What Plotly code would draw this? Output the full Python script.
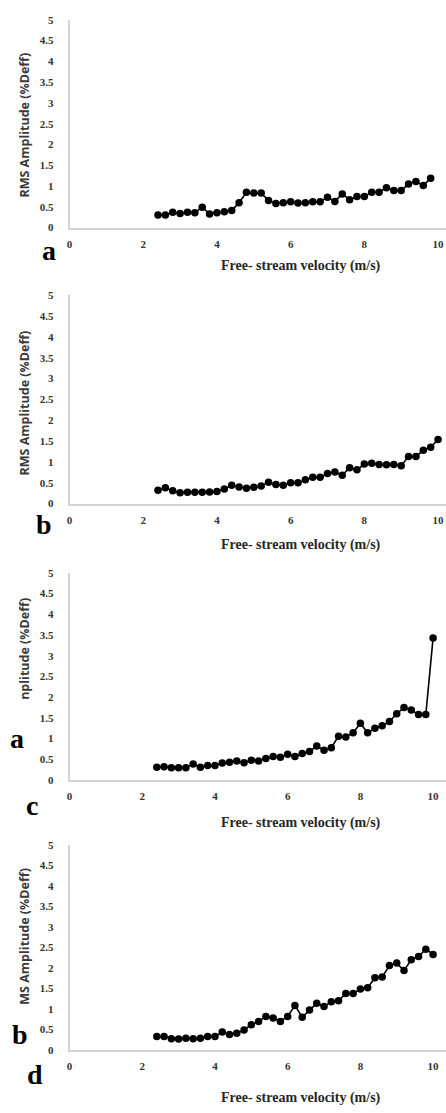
import plotly.graph_objects as go

W, H = 446, 1113

# ---------------- data ----------------
velocity_a = [2.4, 2.6, 2.8, 3.0, 3.2, 3.4, 3.6, 3.8, 4.0, 4.2, 4.4, 4.6, 4.8, 5.0, 5.2, 5.4,
              5.6, 5.8, 6.0, 6.2, 6.4, 6.6, 6.8, 7.0, 7.2, 7.4, 7.6, 7.8, 8.0, 8.2, 8.4, 8.6,
              8.8, 9.0, 9.2, 9.4, 9.6, 9.8]
rms_a = [0.30, 0.30, 0.37, 0.34, 0.37, 0.36, 0.49, 0.33, 0.36, 0.38, 0.41, 0.60, 0.85, 0.83,
         0.83, 0.65, 0.58, 0.60, 0.62, 0.59, 0.60, 0.62, 0.62, 0.73, 0.63, 0.81, 0.67, 0.75,
         0.75, 0.85, 0.85, 0.96, 0.89, 0.89, 1.05, 1.11, 1.01, 1.19]

velocity_b = [2.4, 2.6, 2.8, 3.0, 3.2, 3.4, 3.6, 3.8, 4.0, 4.2, 4.4, 4.6, 4.8, 5.0, 5.2, 5.4,
              5.6, 5.8, 6.0, 6.2, 6.4, 6.6, 6.8, 7.0, 7.2, 7.4, 7.6, 7.8, 8.0, 8.2, 8.4, 8.6,
              8.8, 9.0, 9.2, 9.4, 9.6, 9.8, 10.0]
rms_b = [0.32, 0.38, 0.31, 0.26, 0.27, 0.27, 0.27, 0.28, 0.29, 0.35, 0.44, 0.40, 0.37, 0.39,
         0.42, 0.51, 0.46, 0.44, 0.50, 0.50, 0.57, 0.63, 0.63, 0.72, 0.76, 0.68, 0.86, 0.81,
         0.95, 0.97, 0.94, 0.93, 0.94, 0.91, 1.13, 1.13, 1.28, 1.35, 1.54]

velocity_c = velocity_b
rms_c = [0.31, 0.32, 0.30, 0.30, 0.30, 0.39, 0.31, 0.35, 0.35, 0.41, 0.43, 0.46, 0.42, 0.48,
         0.46, 0.52, 0.57, 0.55, 0.62, 0.57, 0.64, 0.69, 0.82, 0.72, 0.78, 1.06, 1.04, 1.14,
         1.37, 1.14, 1.25, 1.31, 1.41, 1.60, 1.75, 1.69, 1.58, 1.58, 3.43]

velocity_d = velocity_b
rms_d = [0.33, 0.33, 0.28, 0.27, 0.29, 0.28, 0.29, 0.33, 0.33, 0.44, 0.38, 0.41, 0.49, 0.62,
         0.70, 0.82, 0.78, 0.70, 0.82, 1.09, 0.80, 0.98, 1.14, 1.06, 1.18, 1.20, 1.38, 1.38,
         1.49, 1.52, 1.76, 1.78, 2.06, 2.12, 1.94, 2.20, 2.28, 2.46, 2.33]

x_title = "Free- stream velocity (m/s)"
y_titles = ["RMS Amplitude (%Deff)", "RMS Amplitude (%Deff)",
            "nplitude (%Deff)", "MS Amplitude (%Deff)"]
x_ticks = [0, 2, 4, 6, 8, 10]
x_tick_labels = ["0", "2", "4", "6", "8", "10"]
y_ticks = [0, 0.5, 1, 1.5, 2, 2.5, 3, 3.5, 4, 4.5, 5]
y_tick_labels = ["0", "0.5", "1", "1.5", "2", "2.5", "3", "3.5", "4", "4.5", "5"]

# ---------------- layout (pixel geometry) ----------------
series = [(velocity_a, rms_a), (velocity_b, rms_b), (velocity_c, rms_c), (velocity_d, rms_d)]
# (y bottom px, y top px, px per x unit)
panels = [(224, 14, 37.1), (503, 292.5, 37.1), (782.5, 573, 36.6), (1055.5, 848, 36.6)]
x_left = 67
title_y = [263, 545, 826, 1104]
ytitle_c = [120, 401, 650, 940]
letters = [("a", 46.7, 247), ("b", 41.5, 524), ("a", 14.5, 740), ("c", 29, 808),
           ("b", 16.7, 1040), ("d", 32.5, 1080)]

def py(p):
    return 1 - p / H

def px(p):
    return p / W

def bold(labels):
    return ["<b>" + s + "</b>" for s in labels]

tick_font = dict(family="Liberation Serif", size=11, color="#333333")
fig = go.Figure()
annotations = []
for i, ((xs, ys), (yb, yt, scale)) in enumerate(zip(series, panels)):
    n = "" if i == 0 else str(i + 1)
    fig.add_trace(go.Scatter(
        x=xs, y=ys, mode="lines+markers", xaxis="x" + n, yaxis="y" + n,
        line=dict(color="#000000", width=1.6),
        marker=dict(color="#000000", size=7.5),
        showlegend=False, cliponaxis=False))
    xmax = (W - x_left) / scale
    fig.update_layout(**{
        "xaxis" + n: dict(domain=[px(x_left), 1], range=[0, xmax], anchor="y" + n,
                          tickvals=x_ticks, ticktext=bold(x_tick_labels),
                          showgrid=False, zeroline=False,
                          showline=True, linecolor="#d4d4d4", linewidth=1.5,
                          ticks="", ticklabelstandoff=5,
                          tickfont=tick_font, fixedrange=True),
        "yaxis" + n: dict(domain=[py(yb), py(yt)], range=[0, 5], anchor="x" + n,
                          tickvals=y_ticks, ticktext=bold(y_tick_labels),
                          showgrid=False, zeroline=False,
                          showline=True, linecolor="#d4d4d4", linewidth=1.5,
                          ticks="", ticklabelstandoff=12,
                          tickfont=tick_font, fixedrange=True),
    })
    annotations.append(dict(
        text="<b>" + x_title + "</b>", x=px(300), y=py(title_y[i]),
        xref="paper", yref="paper", showarrow=False, xanchor="center", yanchor="middle",
        font=dict(family="Liberation Serif", size=14, color="#262626")))
    annotations.append(dict(
        text=y_titles[i], x=px(22), y=py(ytitle_c[i]), textangle=-90,
        xref="paper", yref="paper", showarrow=False, xanchor="center", yanchor="middle",
        font=dict(family="Open Sans", size=12.5, color="#3a3a3a", weight=700)))

for t, lx, ly in letters:
    annotations.append(dict(
        text="<b>" + t + "</b>", x=px(lx), y=py(ly), xref="paper", yref="paper",
        showarrow=False, xanchor="center", yanchor="middle",
        font=dict(family="Liberation Serif", size=28, color="#000000")))

fig.update_layout(width=W, height=H, margin=dict(l=0, r=0, t=0, b=0),
                  paper_bgcolor="white", plot_bgcolor="white",
                  annotations=annotations, showlegend=False)
fig.write_html("out.html")
